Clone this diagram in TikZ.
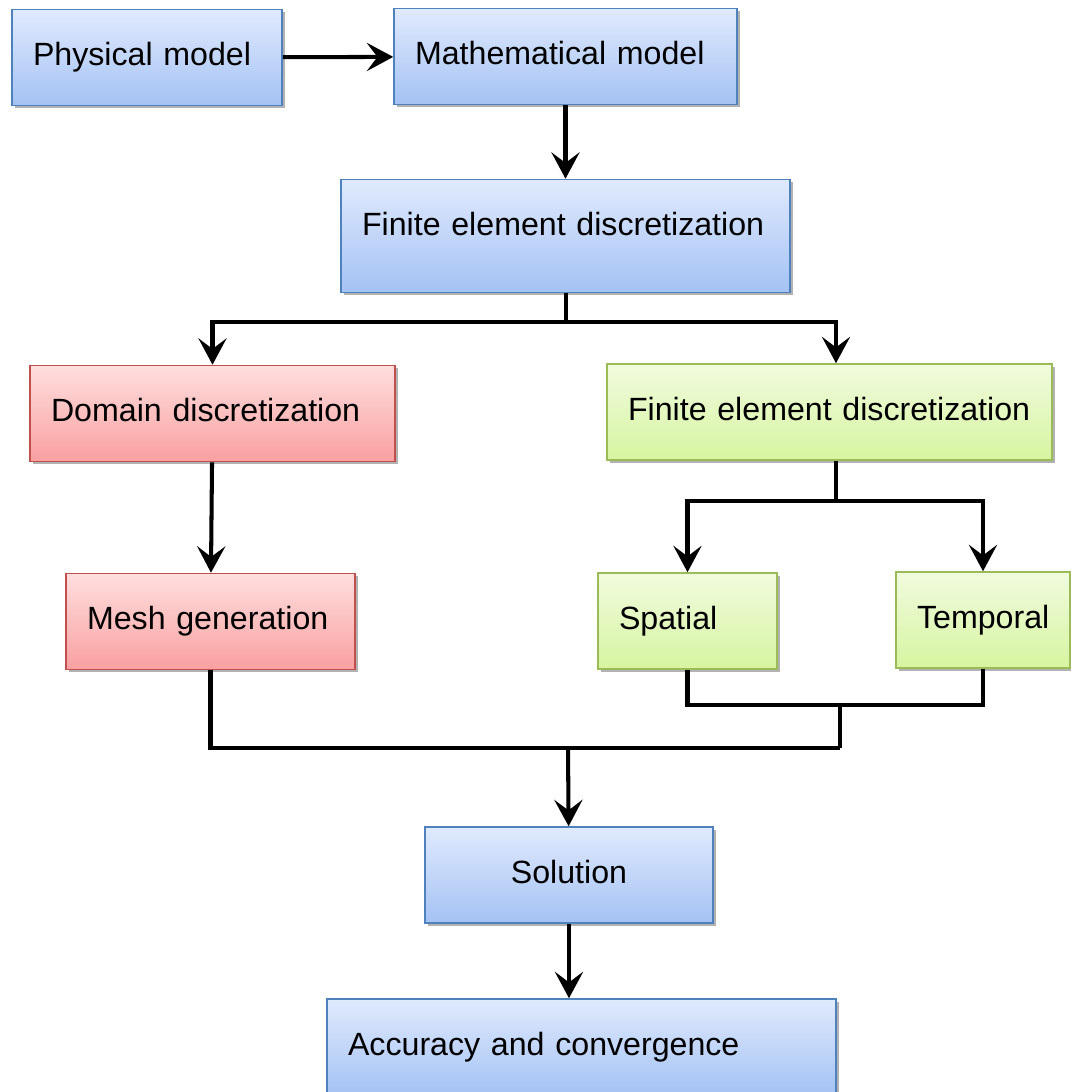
\documentclass[tikz,border=0pt]{standalone}
\usepackage{fontspec}
\setmainfont{Liberation Sans}
\usetikzlibrary{arrows.meta,shadows}
\definecolor{blueedge}{RGB}{79,129,189}
\definecolor{bluetop}{RGB}{224,234,253}
\definecolor{bluebot}{RGB}{164,194,244}
\definecolor{rededge}{RGB}{192,80,77}
\definecolor{redtop}{RGB}{255,222,222}
\definecolor{redbot}{RGB}{249,160,160}
\definecolor{greenedge}{RGB}{155,187,89}
\definecolor{greentop}{RGB}{241,251,222}
\definecolor{greenbot}{RGB}{214,245,160}
\tikzset{
  base/.style={rectangle, inner sep=0pt, align=left, line width=0.9pt,
    font=\fontsize{18.3}{22}\selectfont, text height=1.12cm, text depth=0.8cm,
    drop shadow={shadow xshift=1.5pt, shadow yshift=-1.5pt, opacity=0.3, fill=black}},
  pad/.style={execute at begin node={\hspace*{0.42cm}}},
  bluebox/.style={base, draw=blueedge, top color=bluetop, bottom color=bluebot},
  redbox/.style={base, pad, draw=rededge, top color=redtop, bottom color=redbot},
  greenbox/.style={base, pad, draw=greenedge, top color=greentop, bottom color=greenbot},
  wire/.style={line width=2.3pt},
  arr/.style={wire, -{Stealth[length=15pt, width=16pt, inset=6pt]}}
}
\begin{document}
\begin{tikzpicture}[x=0.02cm, y=-0.02cm]
\useasboundingbox (0,0) rectangle (1071,1092);
\node[bluebox, pad, text width=5.4cm] (phys) at (147,57.5) {Physical model};
\node[bluebox, pad, text width=6.86cm] (math) at (565.5,56.5) {Mathematical model};
\node[bluebox, pad, text width=8.98cm, text depth=1.14cm] (fed) at (565.5,236) {Finite element discretization};
\node[redbox, text width=7.3cm] (dom) at (212.5,413.5) {Domain discretization};
\node[greenbox, text width=8.9cm] (fe) at (829.5,412) {Finite element discretization};
\node[redbox, text width=5.78cm] (mesh) at (210.5,621.5) {Mesh generation};
\node[greenbox, text width=3.58cm] (spat) at (687.5,621) {Spatial};
\node[greenbox, text width=3.48cm] (temp) at (983,620) {Temporal};
\node[bluebox, text width=5.76cm, align=center] (sol) at (569,875) {Solution};
\node[bluebox, pad, text width=10.18cm] (acc) at (581.5,1047) {Accuracy and convergence};

\coordinate (j1) at (566,322);
\coordinate (j2) at (836,501);
\coordinate (j3) at (840,705);
\coordinate (j4) at (840,748);
\coordinate (j5) at (568,748);

\draw[arr] (phys) -- (math);
\draw[arr] (math) -- (fed);
\draw[wire] (fed.south -| j1) -- (j1);
\draw[arr] (j1) -| (dom);
\draw[arr] (j1) -| (fe.north -| j2);
\draw[arr] (dom) -- (mesh);
\draw[wire] (fe.south -| j2) -- (j2);
\draw[arr] (j2) -| (spat);
\draw[arr] (j2) -| (temp);
\draw[wire] (spat.south) |- (j3) -| (temp.south);
\draw[wire] (j3) -- (j4);
\draw[wire] (mesh.south) |- (j4);
\draw[arr] (j5) -- (sol);
\draw[arr] (sol.south) -- (sol.south |- acc.north);
\end{tikzpicture}
\end{document}
